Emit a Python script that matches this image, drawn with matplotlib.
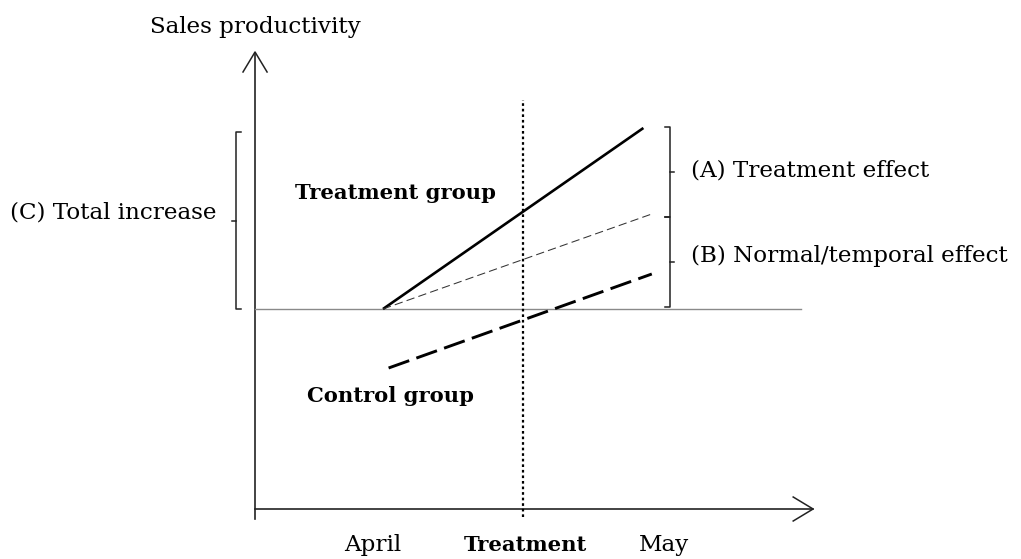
import matplotlib
matplotlib.use("Agg")
import matplotlib.pyplot as plt

# ---- data (arbitrary productivity units; time: April=0, May~1) ----
treat_x = [0.0, 0.93]
treat_y = [0.0, 1.81]
counter_x = [0.0, 0.96]
counter_y = [0.0, 0.95]
control_x = [0.02, 0.96]
control_y = [-0.59, 0.35]
tick_labels = ["April", "Treatment", "May"]
tick_pos = [-0.036, 0.51, 1.004]
treatment_time = 0.5

FONT = ["DejaVu Serif", "Liberation Serif"]
plt.rcParams["font.family"] = FONT
FS = 16.6
FSB = 15.2

fig = plt.figure(figsize=(10.21, 5.59), dpi=100)
ax = fig.add_axes([0, 0, 1, 1])
ax.set_xlim(-383 / 280, (1021 - 383) / 280)
ax.set_ylim((309 - 559) / 100, 309 / 100)
ax.axis("off")

AX_C = "#222222"
# axes with arrows
y_ax_x = -0.457
x_ax_y = -2.00
ax.plot([y_ax_x, y_ax_x], [-2.10, 2.56], color=AX_C, lw=1.2)
ax.plot([y_ax_x, 1.535], [x_ax_y, x_ax_y], color=AX_C, lw=1.2)
ax.plot([y_ax_x - 0.043, y_ax_x, y_ax_x + 0.043], [2.37, 2.57, 2.37], color=AX_C, lw=1.1)
ax.plot([1.465, 1.536, 1.465], [x_ax_y + 0.12, x_ax_y, x_ax_y - 0.12], color=AX_C, lw=1.1)

# baseline
ax.plot([y_ax_x, 1.493], [0, 0], color="#8a8a8a", lw=1.0)

# treatment timing
ax.plot([treatment_time, treatment_time], [-2.08, 2.09], color="black", lw=1.6,
        linestyle=(0, (1.2, 1.3)))

# lines
ax.plot(treat_x, treat_y, color="black", lw=1.9, solid_capstyle="butt")
ax.plot(counter_x, counter_y, color="#333333", lw=0.75, linestyle=(0, (8, 4)))
ax.plot(control_x, control_y, color="black", lw=2.1, linestyle=(0, (7.5, 2.6)))

# brackets
def bracket(x, y0, y1, side, hook=0.017, tick=0.015):
    d = -1 if side == "right" else 1
    ax.plot([x + d * hook, x, x, x + d * hook], [y0, y0, y1, y1], color=AX_C, lw=1.1)
    ym = (y0 + y1) / 2
    ax.plot([x, x - d * tick], [ym, ym], color=AX_C, lw=1.1)

bracket(1.025, 1.82, 0.92, "right")
bracket(1.025, 0.92, 0.02, "right")
bracket(-0.524, 1.77, 0.0, "left")

# text
ax.text(y_ax_x, 2.76, "Sales productivity", ha="center", va="baseline", fontsize=FS)
ax.text(1.10, 1.33, "(A) Treatment effect", ha="left", va="baseline", fontsize=FS)
ax.text(1.10, 0.47, "(B) Normal/temporal effect", ha="left", va="baseline", fontsize=FS)
ax.text(-0.595, 0.91, "(C) Total increase", ha="right", va="baseline", fontsize=FS)
ax.text(-0.315, 1.10, "Treatment group", ha="left", va="baseline", fontsize=FSB, fontweight="bold")
ax.text(-0.271, -0.93, "Control group", ha="left", va="baseline", fontsize=FSB, fontweight="bold")

for lab, p in zip(tick_labels, tick_pos):
    bold = lab == "Treatment"
    ax.text(p, -2.42, lab, ha="center", va="baseline", fontsize=FSB if bold else FS,
            fontweight="bold" if bold else "normal")

fig.savefig("out.png", dpi=100)
